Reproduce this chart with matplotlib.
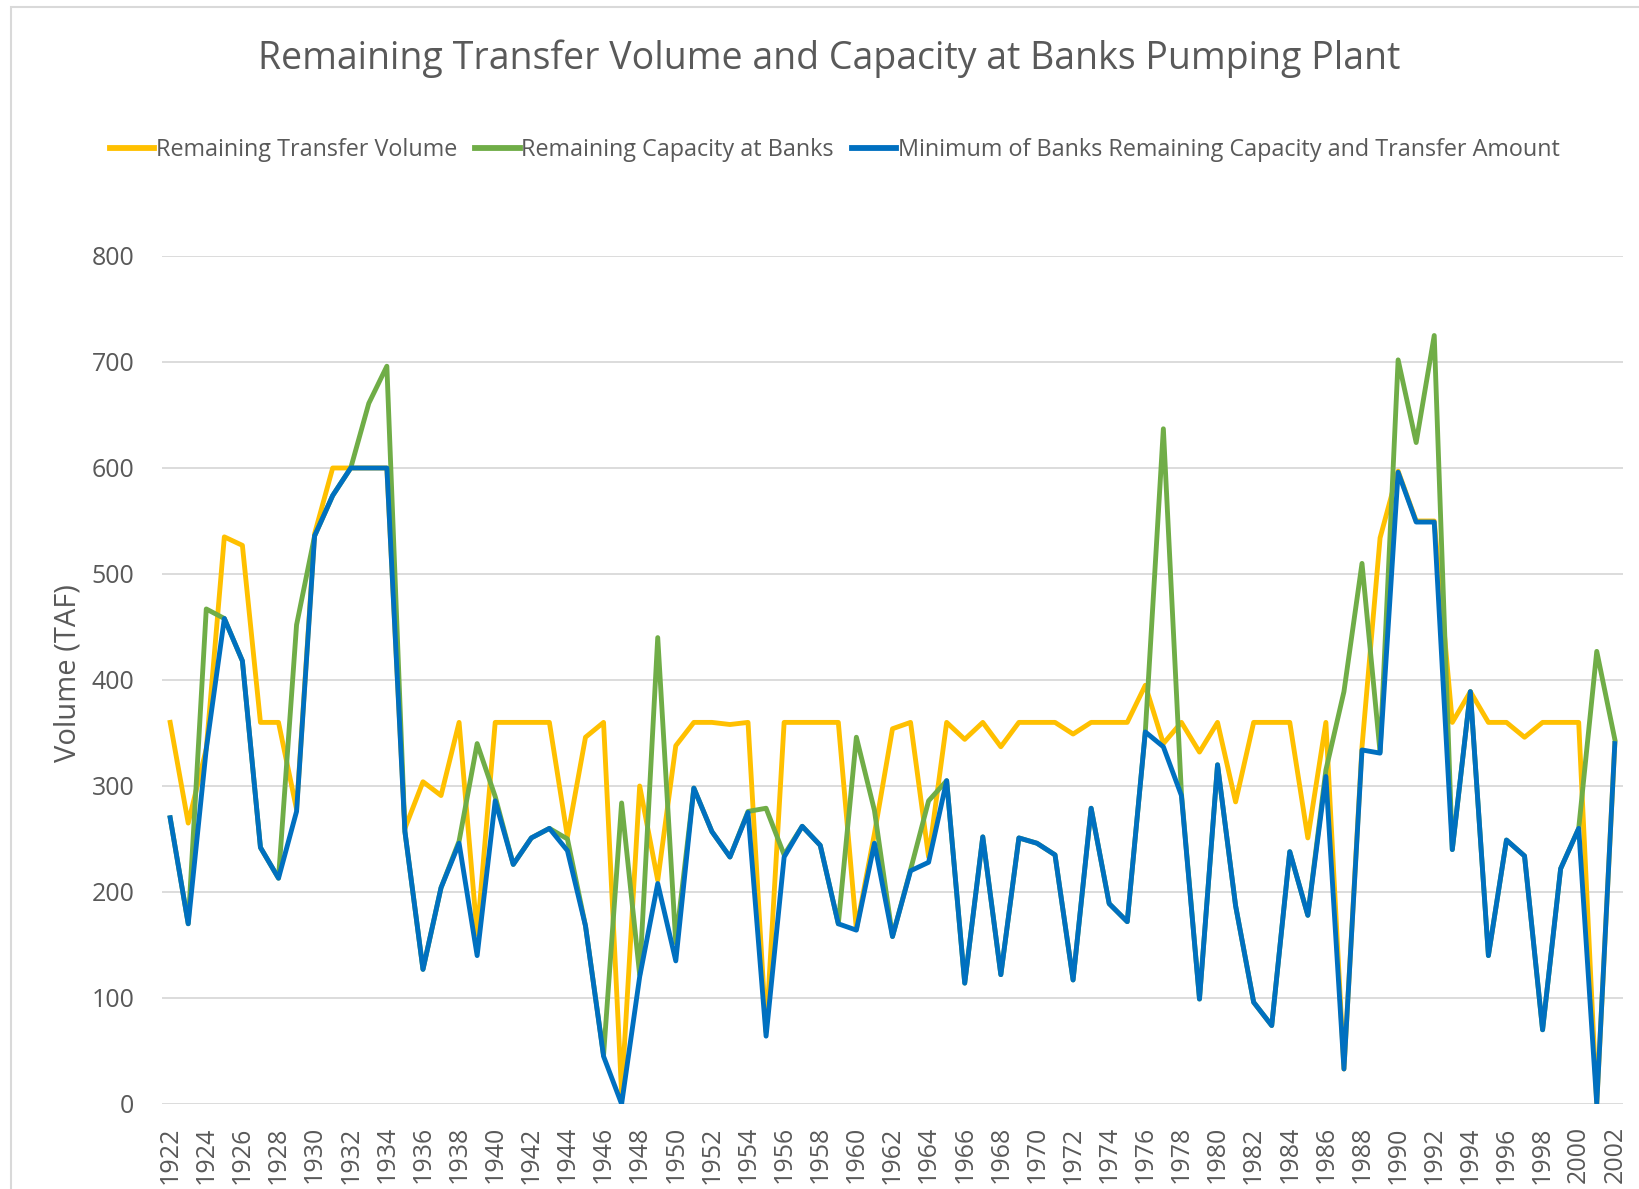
import matplotlib
matplotlib.use("Agg")
import matplotlib.pyplot as plt
from matplotlib.patches import Rectangle

# ___________DATA_______________
years = list(range(1922, 2003))

transfer = [360, 265, 335, 535, 527, 360, 360, 278, 538, 600,
            600, 600, 600, 260, 304, 291, 360, 160, 360, 360,
            360, 360, 252, 346, 360, 10, 300, 211, 338, 360,
            360, 358, 360, 68, 360, 360, 360, 360, 165, 255,
            354, 360, 233, 360, 344, 360, 337, 360, 360, 360,
            349, 360, 360, 360, 395, 340, 360, 332, 360, 285,
            360, 360, 360, 251, 360, 33, 337, 534, 597, 550,
            550, 360, 389, 360, 360, 346, 360, 360, 360, 0,
            340]

capacity = [270, 170, 467, 458, 418, 242, 213, 452, 536, 574,
            600, 661, 696, 257, 127, 204, 248, 340, 290, 226,
            251, 260, 250, 168, 46, 284, 122, 440, 152, 298,
            257, 233, 276, 279, 235, 262, 244, 170, 346, 277,
            158, 221, 286, 305, 114, 252, 122, 251, 246, 235,
            117, 279, 189, 172, 351, 637, 293, 99, 320, 187,
            96, 74, 238, 178, 315, 389, 510, 332, 702, 624,
            725, 240, 389, 140, 249, 234, 70, 222, 260, 427,
            344]

minimum = [270, 170, 335, 458, 418, 242, 213, 276, 536, 574,
           600, 600, 600, 257, 127, 204, 246, 140, 286, 226,
           251, 260, 239, 168, 45, 0, 120, 208, 135, 298,
           257, 233, 275, 64, 233, 262, 244, 170, 164, 246,
           158, 220, 228, 305, 114, 252, 122, 251, 246, 235,
           117, 279, 189, 172, 351, 337, 291, 99, 320, 187,
           96, 74, 238, 178, 309, 33, 334, 331, 596, 549,
           549, 240, 389, 140, 249, 234, 70, 222, 260, 0,
           340]

labels = ["Remaining Transfer Volume", "Remaining Capacity at Banks",
          "Minimum of Banks Remaining Capacity and Transfer Amount"]

# ___________PLOT_______________
plt.rcParams["font.family"] = ["Open Sans", "DejaVu Sans"]
grey = "#595959"

fig = plt.figure(figsize=(16.4, 11.89), dpi=100)
ax = fig.add_axes([0.0988, 0.0715, 0.8908, 0.7132])

ax.plot(years, transfer, color="#FFC000", lw=3.5, label=labels[0])
ax.plot(years, capacity, color="#70AD47", lw=3.5, label=labels[1])
ax.plot(years, minimum, color="#0070C0", lw=3.5, label=labels[2])

ax.set_xlim(1922 - 0.45, 2002 + 0.45)
ax.set_ylim(0, 800)
ax.set_yticks(range(0, 801, 100))
ax.set_xticks(years[::2])
ax.set_xticklabels([str(y) for y in years[::2]], rotation=90)
ax.tick_params(length=0, labelsize=18, labelcolor=grey)
ax.tick_params(axis="y", pad=20)
ax.tick_params(axis="x", pad=16)
ax.grid(axis="y", color="#D9D9D9", lw=1.3)
ax.set_axisbelow(True)
for s in ax.spines.values():
    s.set_visible(False)

fig.text(0.5055, 0.951, "Remaining Transfer Volume and Capacity at Banks Pumping Plant",
         ha="center", va="center", fontsize=27, color=grey)
fig.text(0.0415, 0.434, "Volume (TAF)", rotation=90, ha="center", va="center",
         fontsize=21, color=grey)

leg = fig.legend(loc="center", bbox_to_anchor=(0.509, 0.874), ncol=3, frameon=False,
                 fontsize=16.8, handlelength=1.9, handletextpad=0.05, columnspacing=0.8,
                 labelcolor=grey)
for h in leg.legend_handles:
    h.set_linewidth(4.2)

# chart border
fig.add_artist(Rectangle((11 / 1640, -0.1), 1.2, 1.1 - 7 / 1189,
                         transform=fig.transFigure, fill=False,
                         edgecolor="#D9D9D9", lw=1.5))

fig.savefig("out.png", dpi=100)
